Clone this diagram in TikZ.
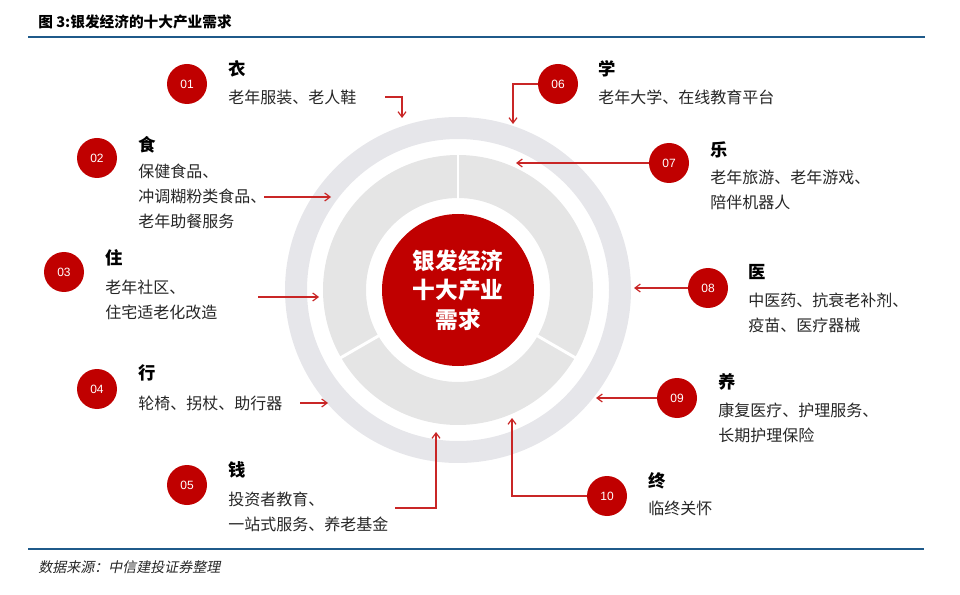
\documentclass[tikz,border=0pt]{standalone}
\usepackage{fontspec}
\setmainfont{Liberation Sans}
\newfontfamily\cjk{Noto Sans CJK SC}
\newfontfamily\cjkit[FakeSlant=0.2]{Noto Sans CJK SC}
\usetikzlibrary{arrows.meta,positioning,calc}
\definecolor{hired}{HTML}{C00000}
\definecolor{ringgray}{HTML}{E6E6EA}
\definecolor{seggray}{HTML}{E5E5E5}
\definecolor{rulebl}{HTML}{1F5A8A}
\definecolor{txtgray}{HTML}{262626}

\begin{document}
\begin{tikzpicture}[x=0.75pt, y=-0.75pt,
      num/.style={circle, fill=hired, minimum size=30pt, inner sep=0pt,
                  text=white, font=\fontsize{9}{9}\selectfont},
      title/.style={anchor=west, inner sep=0pt, font=\cjk\bfseries\fontsize{13}{13}\selectfont},
      desc/.style={anchor=north west, inner sep=0pt, align=left, text=txtgray,
                   font=\cjk\fontsize{12}{18.5}\selectfont},
      link/.style={draw=hired!85!white, line width=0.9pt, -{Straight Barb[length=4pt,width=6pt]}}
    ]
      \useasboundingbox (0,0) rectangle (960,595);

      % header and footer
      \node[anchor=west, inner sep=0pt, font=\cjk\bfseries\fontsize{11}{11}\selectfont]
        (fig_title) at (38,22) {图 3:银发经济的十大产业需求};
      \draw[rulebl, line width=1.6pt] (28,37) -- (925,37);
      \draw[rulebl, line width=1pt] (28,549) -- (924,549);
      \node[anchor=west, inner sep=0pt, text=txtgray, font=\cjkit\fontsize{10.5}{10.5}\selectfont]
        (source) at (38,567) {数据来源：中信建投证券整理};

      % rings
      \coordinate (center) at (458,290);
      \fill[ringgray, even odd rule] (center) circle[radius=173] (center) circle[radius=151];
      \fill[seggray, even odd rule] (center) circle[radius=135] (center) circle[radius=92];
      \foreach \ang in {-90,150,30}
        \draw[white, line width=2.2pt] ($(center)+(\ang:88)$) -- ($(center)+(\ang:139)$);
      \node[circle, fill=hired, minimum size=114pt, inner sep=0pt, text=white, align=center,
            font=\cjk\bfseries\fontsize{17}{22}\selectfont] (hub) at (center)
        {银发经济\\十大产业\\需求};

      % left items
      \node[num] (n01) at (187,84) {01};
      \node[title] (t01) at (228,69) {衣};
      \node[desc] (d01) at (228,90) {老年服装、老人鞋};

      \node[num] (n02) at (97,158) {02};
      \node[title] (t02) at (138,145) {食};
      \node[desc] (d02) at (138,164) {保健食品、\\冲调糊粉类食品、\\老年助餐服务};

      \node[num] (n03) at (64,272) {03};
      \node[title] (t03) at (105,258) {住};
      \node[desc] (d03) at (105,280) {老年社区、\\住宅适老化改造};

      \node[num] (n04) at (97,389) {04};
      \node[title] (t04) at (138,373) {行};
      \node[desc] (d04) at (138,396) {轮椅、拐杖、助行器};

      \node[num] (n05) at (187,485) {05};
      \node[title] (t05) at (228,470) {钱};
      \node[desc] (d05) at (228,492) {投资者教育、\\一站式服务、养老基金};

      % right items
      \node[num] (n06) at (558,84) {06};
      \node[title] (t06) at (598,69) {学};
      \node[desc] (d06) at (598,90) {老年大学、在线教育平台};

      \node[num] (n07) at (669,163) {07};
      \node[title] (t07) at (710,150) {乐};
      \node[desc] (d07) at (710,170) {老年旅游、老年游戏、\\陪伴机器人};

      \node[num] (n08) at (708,288) {08};
      \node[title] (t08) at (748,272) {医};
      \node[desc] (d08) at (748,293) {中医药、抗衰老补剂、\\疫苗、医疗器械};

      \node[num] (n09) at (677,398) {09};
      \node[title] (t09) at (718,382) {养};
      \node[desc] (d09) at (718,403) {康复医疗、护理服务、\\长期护理保险};

      \node[num] (n10) at (607,496) {10};
      \node[title] (t10) at (648,481) {终};
      \node[desc] (d10) at (648,501) {临终关怀};

      % arrow ends
      \coordinate (s01) at (385,97);   \coordinate (e01) at (402,118);
      \coordinate (s02) at (264,197);  \coordinate (e02) at (331,197);
      \coordinate (s03) at (258,297);  \coordinate (e03) at (319,297);
      \coordinate (s04) at (300,403);  \coordinate (e04) at (328,403);
      \coordinate (s05) at (395,508);  \coordinate (e05) at (436,432);
      \coordinate (e06) at (513,124);
      \coordinate (e07) at (516,163);
      \coordinate (e08) at (634,288);
      \coordinate (e09) at (596,398);
      \coordinate (e10) at (512,418);

      \draw[link] (s01) -| (e01);
      \draw[link] (s02) -- (e02);
      \draw[link] (s03) -- (e03);
      \draw[link] (s04) -- (e04);
      \draw[link] (s05) -| (e05);
      \draw[link] (n06.west) -| (e06);
      \draw[link] (n07.west) -- (e07);
      \draw[link] (n08.west) -- (e08);
      \draw[link] (n09.west) -- (e09);
      \draw[link] (n10.west) -| (e10);
    \end{tikzpicture}
\end{document}
